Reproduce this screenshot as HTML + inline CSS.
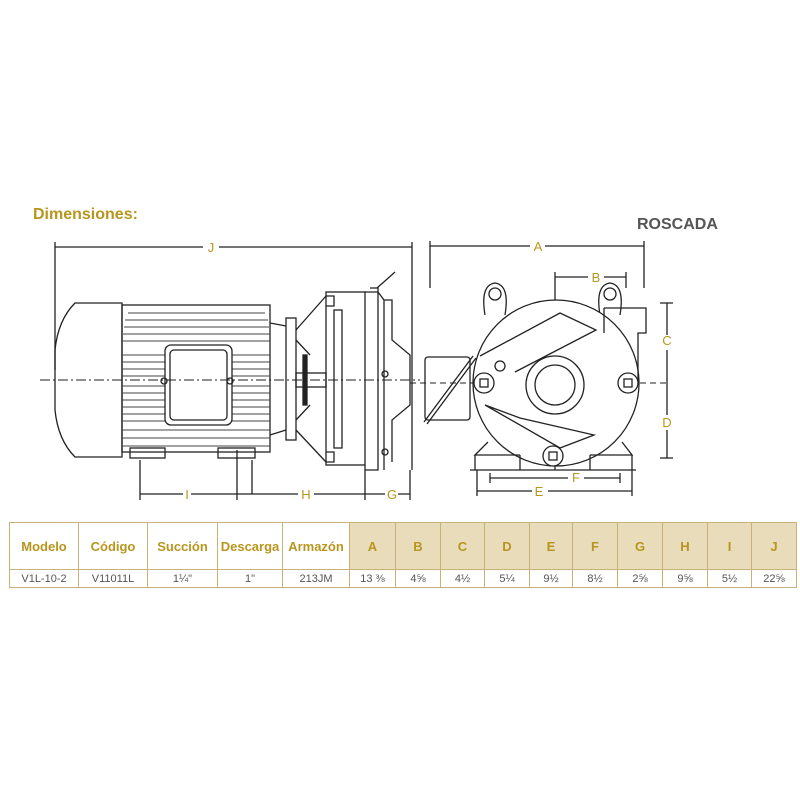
<!DOCTYPE html>
<html><head><meta charset="utf-8"><style>
body{margin:0;background:#fff;width:800px;height:800px;position:relative;font-family:"Liberation Sans",sans-serif;overflow:hidden}
.t{position:absolute;font-weight:bold}
table{position:absolute;left:9px;top:522px;border-collapse:collapse;table-layout:fixed;width:788px}
td{border:1px solid #c9b27a;text-align:center;padding:0;font-size:11px;color:#555}
tr.h td{height:46px;color:#b8961e;font-weight:bold;font-size:13px}
tr.h td.l{background:#e9dcbb}
tr.d td{height:17px}
</style></head><body>
<div class="t" style="left:33px;top:206px;color:#b8961e;font-size:16px">Dimensiones:</div>
<div class="t" style="left:637px;top:216px;color:#555;font-size:16px">ROSCADA</div>
<svg width="800" height="520" style="position:absolute;left:0;top:0" stroke="#222" fill="none" stroke-width="1.3" font-family="Liberation Sans,sans-serif">
<g fill="#b8961e" stroke="none" font-size="13" text-anchor="middle">
<text x="211" y="252">J</text><text x="538" y="251">A</text><text x="596" y="282">B</text>
<text x="667" y="345">C</text><text x="667" y="427">D</text><text x="576" y="482">F</text><text x="539" y="496">E</text>
<text x="187" y="499">I</text><text x="306" y="499">H</text><text x="392" y="499">G</text></g>
<path d="M55 247H203M219 247H412M55 242V370M412 242V470"/>
<path d="M140 494H183M191 494H237M237 494H298M314 494H365M365 494H385M398 494H410M140 460V500M237 450V500M252 460V494M365 465V500M410 470V500"/>
<line x1="40" y1="380" x2="420" y2="380" stroke-dasharray="10,3,2,3" stroke-width="1"/>
<path d="M75 303H122V457H75Q58 440 55 410V350Q58 320 75 303Z"/>
<rect x="122" y="305" width="148" height="147"/>
<g stroke="#444" stroke-width="1"><path d="M128 313H265M125 320H268M124 327H269M123 334H270M122 341H270"/>
<path d="M122 355H165M232 355H270M122 362H165M232 362H270M122 369H165M232 369H270M122 376H165M232 376H270M122 386H165M232 386H270M122 393H165M232 393H270M122 400H165M232 400H270M122 407H165M232 407H270M122 414H165M232 414H270M122 421H165M232 421H270M122 430H270M122 438H270M122 446H270"/></g>
<rect x="165" y="345" width="67" height="80" rx="6"/><rect x="170" y="350" width="57" height="70" rx="4"/>
<circle cx="164" cy="381" r="3"/><circle cx="230" cy="381" r="3"/>
<rect x="130" y="448" width="35" height="10"/><rect x="218" y="448" width="37" height="10"/>
<path d="M270 323L286 326M270 435L286 430"/>
<rect x="286" y="318" width="10" height="122"/>
<path d="M296 330L326 296M296 430L326 462M296 340L310 355M296 420L310 405"/>
<rect x="296" y="373" width="30" height="14"/><rect x="303" y="355" width="4" height="50" fill="#222"/>
<rect x="326" y="292" width="39" height="173"/><rect x="334" y="310" width="8" height="138"/>
<path d="M326 296h8v10h-8M326 452h8v10h-8"/>
<path d="M365 292H378V470H365M378 292L384 300V470M370 288H378V292M384 300H392V340L410 355V405L392 420V462"/>
<circle cx="385" cy="374" r="3"/><circle cx="385" cy="452" r="3"/>
<path d="M377 288L395 272"/>
<path d="M430 246H530M545 246H644M430 241V288M644 241V288M555 277H588M604 277H626M555 272V470M626 272V288"/>
<path d="M660 303H673M667 303V335M667 350V415M667 430V458M660 458H673"/>
<line x1="410" y1="383" x2="670" y2="383" stroke-dasharray="6,4" stroke-width="1"/>
<rect x="425" y="357" width="45" height="63" rx="3"/>
<path d="M424 422L473 356M427 424L476 358"/>
<path d="M485 315Q480 285 495 283Q510 285 505 315"/><circle cx="495" cy="294" r="6"/>
<path d="M600 315Q595 285 610 283Q625 285 620 315"/><circle cx="610" cy="294" r="6"/>
<circle cx="556" cy="383" r="83" fill="#fff"/>
<path d="M604 308H646V333H638V383H625M604 308V333Z"/>
<path d="M480 356L560 313L596 330L515 372M485 405L520 418L594 435L560 448Z"/>
<circle cx="555" cy="385" r="29"/><circle cx="555" cy="385" r="20"/>
<circle cx="484" cy="383" r="10" fill="#fff"/><rect x="480" y="379" width="8" height="8"/>
<circle cx="628" cy="383" r="10" fill="#fff"/><rect x="624" y="379" width="8" height="8"/>
<circle cx="553" cy="456" r="10" fill="#fff"/><rect x="549" y="452" width="8" height="8"/>
<circle cx="500" cy="366" r="5"/>
<path d="M488 442L475 455H520M622 442L632 455H590M475 455V470H520V455M590 455V470H632V455M470 470H636"/>
<path d="M490 478H568M584 478H620M490 473V483M620 473V483M477 491H532M548 491H632M477 470V496M632 470V496"/>
</svg>
<table>
<colgroup><col style="width:69px"><col style="width:69px"><col style="width:70px"><col style="width:65px"><col style="width:67px"><col style="width:46px"><col style="width:45px"><col style="width:44px"><col style="width:45px"><col style="width:43px"><col style="width:45px"><col style="width:45px"><col style="width:45px"><col style="width:44px"><col style="width:45px"></colgroup>
<tr class="h"><td>Modelo</td><td>Código</td><td>Succión</td><td>Descarga</td><td>Armazón</td><td class="l">A</td><td class="l">B</td><td class="l">C</td><td class="l">D</td><td class="l">E</td><td class="l">F</td><td class="l">G</td><td class="l">H</td><td class="l">I</td><td class="l">J</td></tr>
<tr class="d"><td>V1L-10-2</td><td>V11011L</td><td>1¼"</td><td>1"</td><td>213JM</td><td>13 ⅜</td><td>4⅝</td><td>4½</td><td>5¼</td><td>9½</td><td>8½</td><td>2⅝</td><td>9⅝</td><td>5½</td><td>22⅝</td></tr>
</table>
</body></html>
